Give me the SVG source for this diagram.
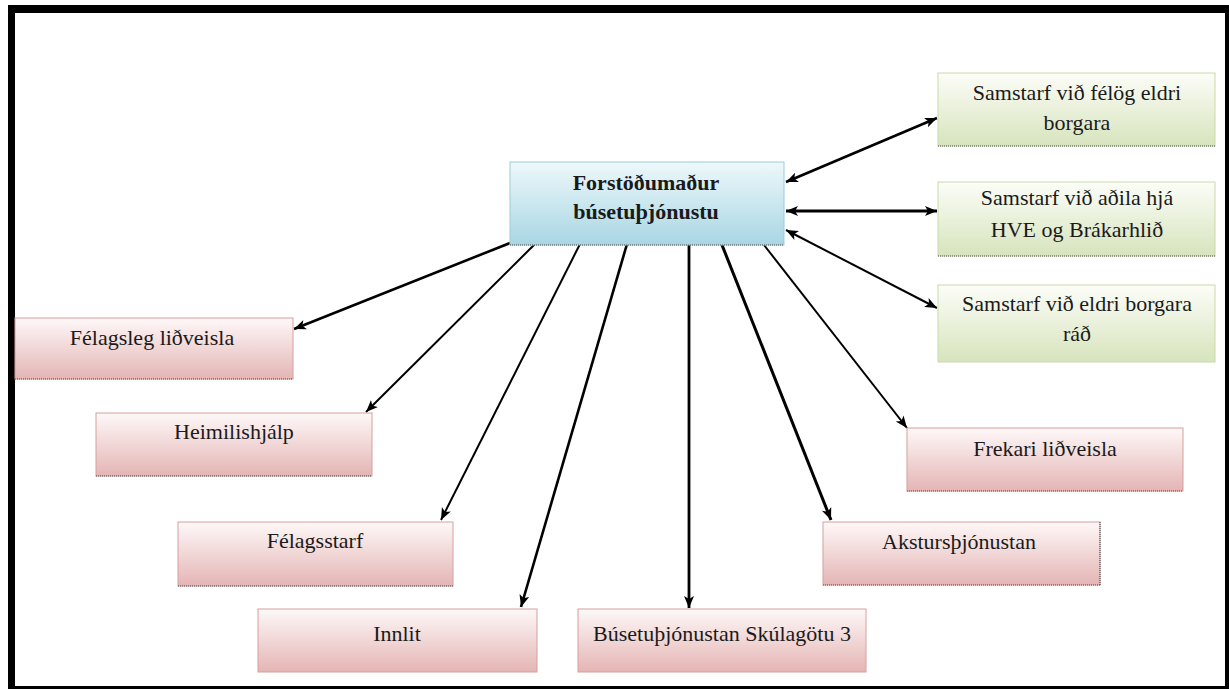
<svg xmlns="http://www.w3.org/2000/svg" width="1229" height="689" viewBox="0 0 1229 689">
<style>
text{font-family:'Liberation Serif','DejaVu Serif','Times New Roman',serif}
.t{font-size:22px;fill:#1a1a1a;text-anchor:middle}
.b{font-weight:bold;font-size:22px}
.blue{fill:url(#gb);stroke:#9ccbd9;stroke-width:1}
.green{fill:url(#gg);stroke:#c9d9a8;stroke-width:1}
.pink{fill:url(#gp);stroke:#d5a09f;stroke-width:1}
.dot{stroke:#555;stroke-width:1.2;stroke-dasharray:1 1;fill:none}
.c{stroke:#000;fill:none;marker-end:url(#ah)}
.d{stroke:#000;fill:none;marker-end:url(#ah);marker-start:url(#ah)}
</style>
<defs>
<linearGradient id="gb" x1="0" y1="0" x2="0" y2="1"><stop offset="0" stop-color="#eef8fb"/><stop offset="1" stop-color="#a8d6e3"/></linearGradient>
<linearGradient id="gg" x1="0" y1="0" x2="0" y2="1"><stop offset="0" stop-color="#fcfdf8"/><stop offset="1" stop-color="#d7e4bd"/></linearGradient>
<linearGradient id="gp" x1="0" y1="0" x2="0" y2="1"><stop offset="0" stop-color="#fef8f8"/><stop offset="1" stop-color="#e4b5b4"/></linearGradient>
<marker id="ah" markerUnits="userSpaceOnUse" markerWidth="14" markerHeight="12" refX="12" refY="5" orient="auto-start-reverse" viewBox="0 0 14 10"><path d="M0,0 L12,5 L0,10 L3,5 z" fill="#000"/></marker>
</defs>
<rect width="1229" height="689" fill="#fff"/>
<g id="frame" fill="#000">
<rect x="8" y="5" width="1221" height="8"/>
<rect x="8" y="5" width="7" height="684"/>
<rect x="1225" y="5" width="4" height="684"/>
<rect x="8" y="686" width="1221" height="3"/>
</g>
<g id="connectors">
<line class="d" x1="786" y1="182" x2="937" y2="118" stroke-width="2.6"/>
<line class="d" x1="786" y1="211" x2="937" y2="211" stroke-width="3"/>
<line class="d" x1="786" y1="230" x2="937" y2="308" stroke-width="2"/>
<line class="c" x1="510" y1="243" x2="294" y2="329" stroke-width="2.6"/>
<line class="c" x1="535" y1="244" x2="366" y2="412" stroke-width="2"/>
<line class="c" x1="580" y1="244" x2="441" y2="520" stroke-width="2"/>
<line class="c" x1="627" y1="244" x2="521" y2="607" stroke-width="2.6"/>
<line class="c" x1="689" y1="245" x2="689" y2="608" stroke-width="2.8"/>
<line class="c" x1="722" y1="245" x2="831" y2="520" stroke-width="3"/>
<line class="c" x1="764" y1="245" x2="907" y2="428" stroke-width="2"/>
</g>
<g id="n-center">
<rect class="blue" x="510" y="162" width="274" height="83"/>
<line class="dot" x1="510" y1="245" x2="784" y2="245"/>
<text class="t b" x="646" y="190">Forstöðumaður</text>
<text class="t b" x="646" y="219">búsetuþjónustu</text>
</g>
<g id="n-g1">
<rect class="green" x="938" y="73" width="277" height="73"/>
<line class="dot" x1="938" y1="146" x2="1215" y2="146"/>
<text class="t" x="1077" y="100">Samstarf við félög eldri</text>
<text class="t" x="1077" y="130">borgara</text>
</g>
<g id="n-g2">
<rect class="green" x="938" y="182" width="277" height="74"/>
<line class="dot" x1="938" y1="256" x2="1215" y2="256"/>
<text class="t" x="1077" y="205">Samstarf við aðila hjá</text>
<text class="t" x="1077" y="237">HVE og Brákarhlið</text>
</g>
<g id="n-g3">
<rect class="green" x="938" y="285" width="277" height="77"/>
<text class="t" x="1077" y="311">Samstarf við eldri borgara</text>
<text class="t" x="1077" y="341">ráð</text>
</g>
<g id="n-p1">
<rect class="pink" x="15" y="318" width="278" height="61"/>
<line class="dot" x1="15" y1="379" x2="293" y2="379"/>
<text class="t" x="152" y="345">Félagsleg liðveisla</text>
</g>
<g id="n-p2">
<rect class="pink" x="96" y="413" width="276" height="63"/>
<line class="dot" x1="96" y1="476" x2="372" y2="476"/>
<text class="t" x="234" y="439">Heimilishjálp</text>
</g>
<g id="n-p3">
<rect class="pink" x="178" y="522" width="275" height="64"/>
<line class="dot" x1="178" y1="586" x2="453" y2="586"/>
<text class="t" x="315" y="548">Félagsstarf</text>
</g>
<g id="n-p4">
<rect class="pink" x="258" y="609" width="279" height="63"/>
<text class="t" x="397" y="641">Innlit</text>
</g>
<g id="n-p5">
<rect class="pink" x="578" y="609" width="288" height="63"/>
<text class="t" x="722" y="641">Búsetuþjónustan Skúlagötu 3</text>
</g>
<g id="n-p6">
<rect class="pink" x="823" y="522" width="277" height="63"/>
<line class="dot" x1="1100" y1="522" x2="1100" y2="585"/>
<line class="dot" x1="823" y1="585" x2="1100" y2="585"/>
<text class="t" x="959" y="549">Akstursþjónustan</text>
</g>
<g id="n-p7">
<rect class="pink" x="907" y="428" width="276" height="63"/>
<line class="dot" x1="907" y1="491" x2="1183" y2="491"/>
<text class="t" x="1045" y="456">Frekari liðveisla</text>
</g>
</svg>
